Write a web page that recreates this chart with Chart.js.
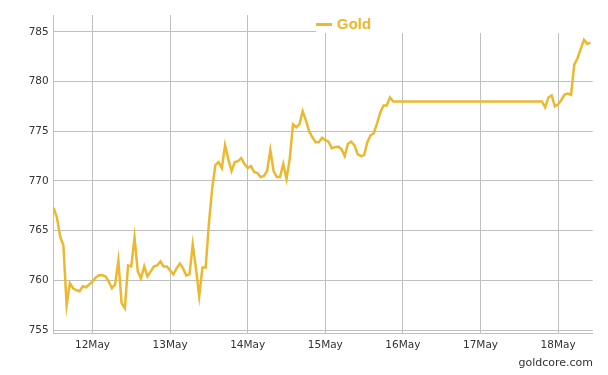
<!DOCTYPE html>
<html>
<head>
<meta charset="utf-8">
<script src="https://cdn.jsdelivr.net/npm/chart.js@4/dist/chart.umd.min.js"></script>
<style>
  body { margin: 0; background: #fff; }
  #wrap { position: relative; width: 608px; height: 375px; }
  #legend {
    position: absolute; left: 316px; top: 14px; width: 280px; height: 19px;
    background: #fff; font: bold 15px "Liberation Sans", Arial, sans-serif; color: #EBB82F;
  }
  #legend .swatch { position: absolute; left: 0; top: 9px; width: 16px; height: 3px; background: #EBB82F; }
  #legend .name { position: absolute; left: 21px; top: 1px; }
  #credit {
    position: absolute; right: 15px; top: 356px;
    font: 11px "DejaVu Sans", sans-serif; color: #333;
  }
</style>
</head>
<body>
<div id="wrap">
  <canvas id="chart"></canvas>
  <div id="legend"><span class="swatch"></span><span class="name">Gold</span></div>
  <div id="credit">goldcore.com</div>
</div>
<script>
// hours counted from 11 May 00:00; the weekend has no quotes
const hourStamps = [
  12, 13, 14, 15, 16, 17, 18, 19, 20, 21, 22, 23,
  24, 25, 26, 27, 28, 29, 30, 31, 32, 33, 34, 35, 36, 37, 38, 39, 40, 41, 42, 43, 44, 45, 46, 47,
  48, 49, 50, 51, 52, 53, 54, 55, 56, 57, 58, 59, 60, 61, 62, 63, 64, 65, 66, 67, 68, 69, 70, 71,
  72, 73, 74, 75, 76, 77, 78, 79, 80, 81, 82, 83, 84, 85, 86, 87, 88, 89, 90, 91, 92, 93, 94, 95,
  96, 97, 98, 99, 100, 101, 102, 103, 104, 105, 106, 107, 108, 109, 110, 111, 112, 113, 114, 115, 116, 117,
  163, 164, 165, 166, 167, 168, 169, 170, 171, 172, 173, 174, 175, 176, 177, 178
];
const goldPrices = [
  767.3, 766.3, 764.4, 763.5, 757.5, 759.7, 759.2, 759.0, 758.9, 759.4, 759.3, 759.6,
  759.9, 760.3, 760.5, 760.5, 760.4, 759.9, 759.2, 759.6, 762.0, 757.7, 757.2, 761.5,
  761.4, 764.3, 760.9, 760.2, 761.4, 760.4, 760.9, 761.4, 761.5, 761.9, 761.4, 761.4,
  761.0, 760.6, 761.2, 761.7, 761.2, 760.5, 760.6, 763.6, 761.2, 758.4, 761.3, 761.3,
  765.7, 769.2, 771.6, 771.9, 771.3, 773.6, 772.2, 771.0, 771.9, 772.0, 772.3, 771.7,
  771.3, 771.5, 770.9, 770.8, 770.4, 770.5, 771.0, 773.1, 771.0, 770.4, 770.4, 771.7,
  770.2, 772.2, 775.7, 775.4, 775.7, 777.0, 776.1, 775.0, 774.4, 773.9, 773.9, 774.35,
  774.1, 773.95, 773.3, 773.4, 773.45, 773.2, 772.5, 773.75, 773.95, 773.6, 772.7, 772.5,
  772.6, 773.9, 774.6, 774.8, 775.8, 776.9, 777.6, 777.6, 778.4, 778.0,
  778.0, 777.4, 778.4, 778.6, 777.5, 777.7, 778.15, 778.7, 778.8, 778.65, 781.7, 782.35,
  783.3, 784.2, 783.8, 783.9
];
const dayTicks = [24, 48, 72, 96, 120, 144, 168];
const dayLabels = ['12May', '13May', '14May', '15May', '16May', '17May', '18May'];
const seriesName = 'Gold';

Chart.defaults.font.family = '"DejaVu Sans", sans-serif';
Chart.defaults.font.size = 10.5;
Chart.defaults.color = '#333';

const gridColor = '#bfbfbf';

new Chart(document.getElementById('chart'), {
  type: 'line',
  data: {
    datasets: [{
      label: seriesName,
      data: hourStamps.map((h, i) => ({ x: h, y: goldPrices[i] })),
      borderColor: '#EBB82F',
      borderWidth: 2.5,
      pointRadius: 0,
      tension: 0,
      fill: false
    }]
  },
  options: {
    responsive: true,
    maintainAspectRatio: false,
    animation: false,
    layout: { padding: { left: 0, top: 15, right: 15.3, bottom: 0 } },
    plugins: { legend: { display: false }, tooltip: { enabled: false } },
    scales: {
      x: {
        type: 'linear',
        min: 12,
        max: 178.7,
        afterFit: s => { s.height = 42; },
        afterBuildTicks: s => { s.ticks = dayTicks.map(v => ({ value: v })); },
        ticks: {
          includeBounds: false,
          padding: 6,
          maxRotation: 0,
          callback: (v) => dayLabels[dayTicks.indexOf(v)]
        },
        grid: { color: gridColor, drawTicks: false },
        border: { color: gridColor }
      },
      y: {
        min: 754.7,
        max: 786.7,
        afterFit: s => { s.width = 53.7; },
        ticks: { stepSize: 5, includeBounds: false, padding: 5 },
        grid: { color: gridColor, drawTicks: false },
        border: { color: gridColor }
      }
    }
  }
});
</script>
</body>
</html>
